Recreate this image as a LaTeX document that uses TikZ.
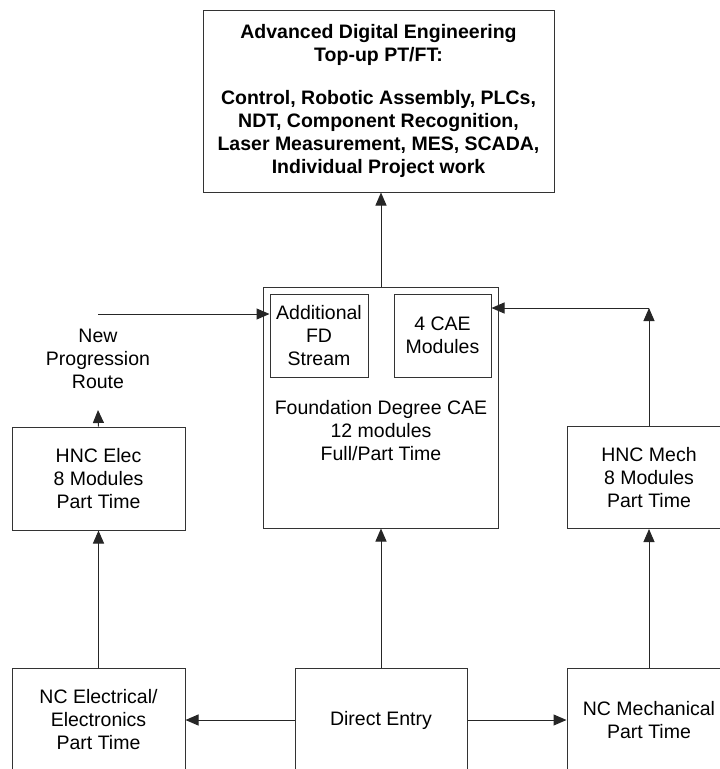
\documentclass[tikz,border=0pt]{standalone}
\usepackage{fontspec}
\setmainfont{Liberation Sans}
\usetikzlibrary{arrows.meta}

\begin{document}
\begin{tikzpicture}[
    x=1pt, y=-1pt,
    every node/.style={font=\fontsize{19.5}{23}\selectfont, align=center},
    box/.style={draw=black!80, line width=1pt, inner sep=0pt},
    link/.style={draw=black!85, line width=1pt, -{Triangle[length=13pt, width=11pt]}}
  ]
  % page size, the bottom row is cut off by the edge
  \clip (0,0) rectangle (720,769);

  % Top-up box
  \node[box, minimum width=351, minimum height=182,
        font=\fontsize{19.5}{23}\selectfont\bfseries]
    (topup) at (378.5,101)
    {Advanced Digital Engineering\\ Top-up PT/FT:\\[20pt]
     Control, Robotic Assembly, PLCs,\\ NDT, Component Recognition,\\
     Laser Measurement, MES, SCADA,\\ Individual Project work};

  % Foundation degree with its two streams
  \node[box, minimum width=235, minimum height=241] (fd) at (381,407.5) {};
  \node (fdtext) at (381,431) {Foundation Degree CAE\\ 12 modules\\ Full/Part Time};
  \node[box, minimum width=98, minimum height=83] (addfd) at (319,335.5)
    {Additional\\ FD\\ Stream};
  \node[box, minimum width=97, minimum height=83] (cae) at (442.5,335.5)
    {4 CAE\\ Modules};

  % HNC boxes
  \node[box, minimum width=173, minimum height=103] (hncelec) at (98.5,478.5)
    {HNC Elec\\ 8 Modules\\ Part Time};
  \node[box, minimum width=164, minimum height=102] (hncmech) at (649,477.5)
    {HNC Mech\\ 8 Modules\\ Part Time};

  % Entry row
  \node[box, minimum width=173, minimum height=104] (ncelec) at (98.5,720)
    {NC Electrical/\\ Electronics\\ Part Time};
  \node[box, minimum width=172, minimum height=104] (direct) at (381,720)
    {Direct Entry};
  \node[box, minimum width=164, minimum height=104] (ncmech) at (649,720)
    {NC Mechanical\\ Part Time};

  % New route label
  \node (newroute) at (98,359) {New\\ Progression\\ Route};
  \coordinate (routestart) at (98,314);
  \coordinate (routetip) at (98,410);
  \coordinate (corner) at (649,308);

  % Connectors
  \draw[link] (fd.north) -- (fd.north |- topup.south);
  \draw[link] (routestart) -- (routestart -| addfd.west);
  \draw[link] (hncelec.north) -- (routetip);
  \draw[link] (hncmech.north) -- (corner);
  \draw[link] (corner) -- (corner -| cae.east);
  \draw[link] (ncelec.north) -- (hncelec.south);
  \draw[link] (direct.north) -- (fd.south);
  \draw[link] (ncmech.north) -- (hncmech.south);
  \draw[link] (direct.west) -- (ncelec.east);
  \draw[link] (direct.east) -- (ncmech.west);
\end{tikzpicture}
\end{document}
